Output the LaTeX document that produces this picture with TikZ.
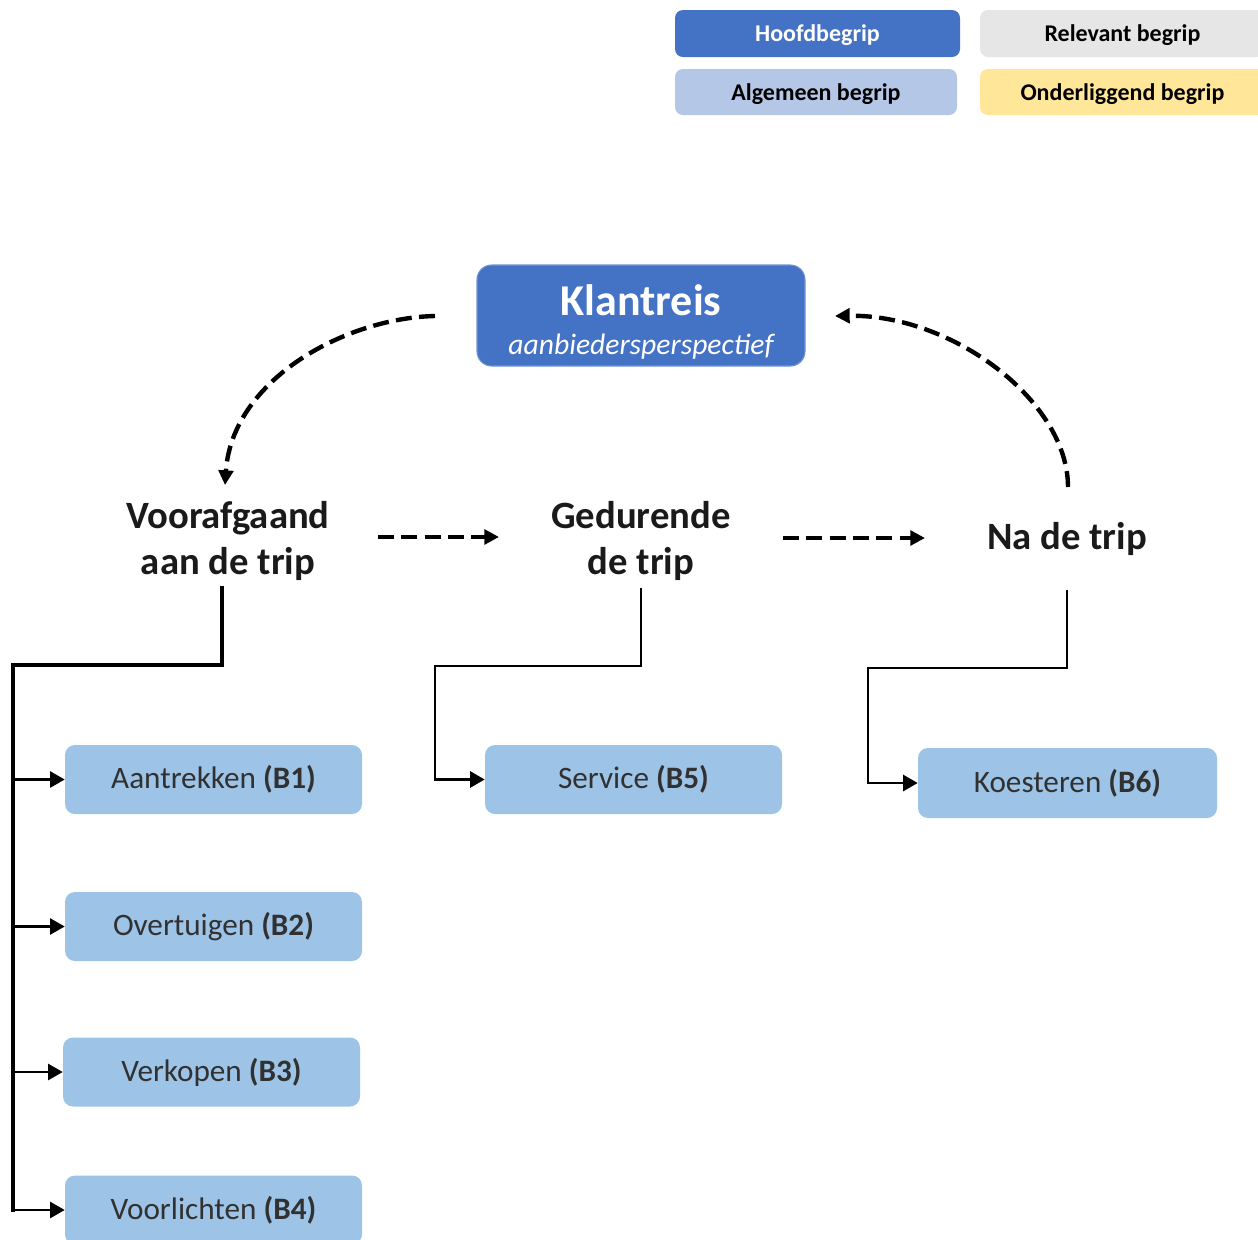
\documentclass[tikz,border=0pt]{standalone}
\usepackage{fontspec}
\setmainfont{Carlito}
\usetikzlibrary{arrows.meta}

\definecolor{hoofd}{HTML}{4472C4}
\definecolor{relevant}{HTML}{E7E6E6}
\definecolor{algemeen}{HTML}{B4C7E7}
\definecolor{onder}{HTML}{FFE699}
\definecolor{leaf}{HTML}{9DC3E6}
\definecolor{ink}{HTML}{1A1A1A}

\begin{document}
\begin{tikzpicture}[x=0.75pt,y=-0.75pt,
  legendbox/.style={rectangle, rounded corners=6pt, inner sep=0pt,
    minimum width=213.75pt, minimum height=35.25pt, text depth=0pt,
    font=\fontsize{18}{22}\selectfont\bfseries},
  mainbox/.style={rectangle, rounded corners=11pt, fill=hoofd,
    draw=hoofd!75!white, line width=0.8pt, text=white, align=center,
    minimum width=246pt, minimum height=75.75pt, inner sep=0pt,
    font=\fontsize{22.2}{29.25}\selectfont},
  stage/.style={inner sep=0pt, align=center, text=ink,
    font=\fontsize{29}{34}\selectfont\bfseries},
  leafbox/.style={rectangle, rounded corners=7.5pt, fill=leaf, inner sep=0pt,
    minimum width=222.75pt, minimum height=51.75pt, text=ink!90,
    font=\fontsize{23.4}{28}\selectfont},
  flow/.style={line width=3.3pt, dash pattern=on 12pt off 5.5pt,
    -{Triangle[length=11pt,width=11pt]}},
  trunk/.style={line width=3.2pt, line cap=rect, line join=miter},
  stem/.style={line width=2.2pt, line join=miter,
    -{Triangle[length=11pt,width=12pt]}},
  branch/.style={line width=2pt, -{Triangle[length=11pt,width=12pt]}},
]
\useasboundingbox (0,0) rectangle (1258,1240);
\clip (0,0) rectangle (1258,1240);

% legend
\node[legendbox, fill=hoofd, text=white] (lgHoofd) at (817.5,33.5) {Hoofdbegrip};
\node[legendbox, fill=relevant, text=black] (lgRel) at (1122.5,33.5) {Relevant begrip};
\node[legendbox, fill=algemeen, text=black, minimum width=211.5pt, minimum height=34.5pt] (lgAlg) at (816,92) {Algemeen begrip};
\node[legendbox, fill=onder, text=black, minimum height=34.5pt] (lgOnd) at (1122.5,92) {Onderliggend begrip};

% main concept
\node[mainbox] (klant) at (641,315.5)
  {{\fontsize{33}{29.25}\selectfont\bfseries\rule{0pt}{33pt}Klantreis}\\{\itshape aanbiedersperspectief}};

% phases of the journey
\node[stage] (voor) at (228,541) {Voorafgaand\\aan de trip};
\node[stage] (ged) at (641,541) {Gedurende\\de trip};
\node[stage, anchor=base] (na) at (1067,549) {Na de trip};

% sub-concepts
\node[leafbox] (b1) at (213.5,779.5) {Aantrekken {\bfseries (B1)}};
\node[leafbox] (b2) at (213.5,926.5) {Overtuigen {\bfseries (B2)}};
\node[leafbox] (b3) at (211.5,1072) {Verkopen {\bfseries (B3)}};
\node[leafbox] (b4) at (213.5,1210) {Voorlichten {\bfseries (B4)}};
\node[leafbox] (b5) at (633.5,779.5) {Service {\bfseries (B5)}};
\node[leafbox, minimum width=224.25pt, minimum height=52.5pt] (b6) at (1067.5,783) {Koesteren {\bfseries (B6)}};

% ends of the dashed cycle arrows
\coordinate (cycA) at (435,316);
\coordinate (cycB) at (225,485);
\coordinate (cycC) at (1068,487);
\coordinate (cycD) at (835,316);
\coordinate (f1s) at (378,537);
\coordinate (f1e) at (499,537);
\coordinate (f2s) at (783,538);
\coordinate (f2e) at (925,538);

% dashed cycle
\draw[flow] (cycA) .. controls (345,318) and (232,380) .. (cycB);
\draw[flow] (cycC) .. controls (1068,401) and (952,314) .. (cycD);
\draw[flow] (f1s) -- (f1e);
\draw[flow] (f2s) -- (f2e);

% tree under the first phase
\coordinate (voorOut) at (222,588);
\coordinate (lk) at (13,665);
\draw[trunk] (voorOut) |- (lk) -- (lk |- b4.west);
\foreach \b in {b1,b2,b3,b4}
  \draw[branch] (lk |- \b.west) -- (\b.west);

% second phase
\coordinate (gedOut) at (641,588);
\coordinate (mk) at (435,666);
\draw[stem] (gedOut) |- (mk) |- (b5.west);

% third phase
\coordinate (naOut) at (1067,590);
\coordinate (rk) at (868,668);
\draw[stem] (naOut) |- (rk) |- (b6.west);
\end{tikzpicture}
\end{document}
